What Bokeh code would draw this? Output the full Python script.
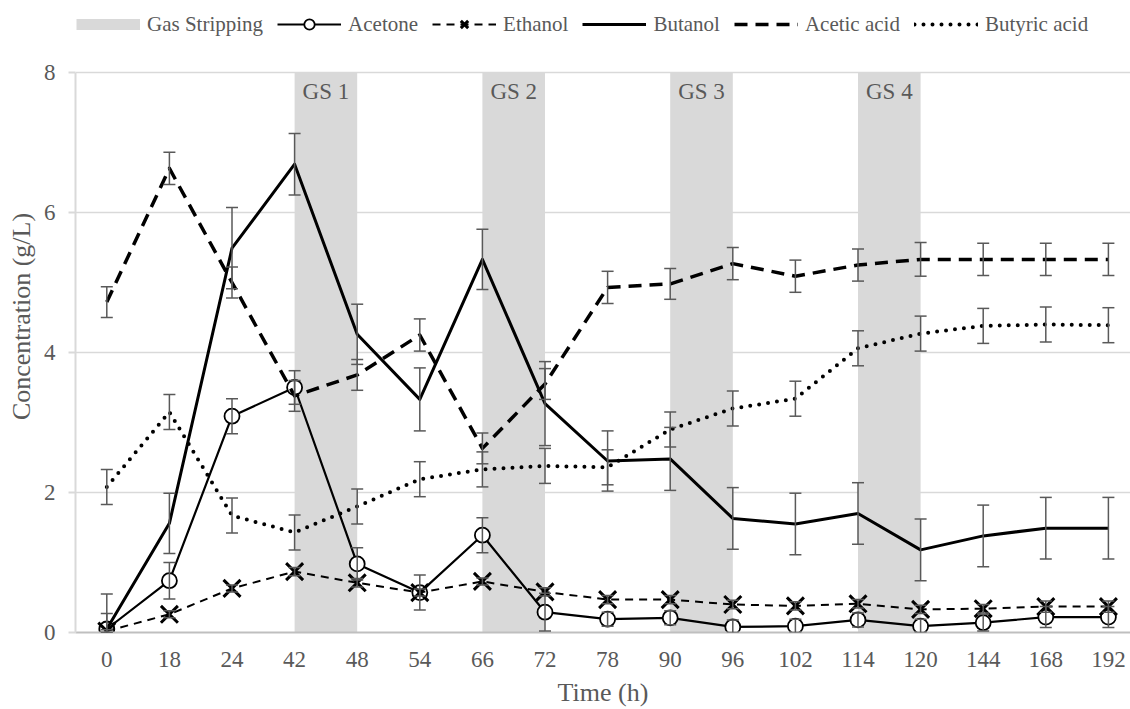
from bokeh.plotting import figure
from bokeh.models import (Range1d, FixedTicker, Whisker, TeeHead, ColumnDataSource,
                          Legend, LegendItem, Label)
from bokeh.embed import file_html
from bokeh.resources import INLINE

# ---------------- data ----------------
times = ["0", "18", "24", "42", "48", "54", "66", "72", "78", "90", "96",
         "102", "114", "120", "144", "168", "192"]

acetone = [0.05, 0.74, 3.09, 3.50, 0.98, 0.57, 1.39, 0.29, 0.19, 0.21, 0.08,
           0.09, 0.18, 0.09, 0.14, 0.22, 0.22]
acetone_err = [0.22, 0.26, 0.25, 0.24, 0.23, 0.25, 0.25, 0.27, 0.10, 0.10, 0.10,
               0.10, 0.10, 0.10, 0.12, 0.15, 0.15]

ethanol = [0.02, 0.26, 0.63, 0.87, 0.71, 0.57, 0.73, 0.58, 0.47, 0.47, 0.40,
           0.38, 0.41, 0.33, 0.34, 0.37, 0.37]
ethanol_err = [0.02, 0.05, 0.05, 0.06, 0.06, 0.05, 0.05, 0.06, 0.06, 0.06, 0.06,
               0.06, 0.06, 0.06, 0.06, 0.08, 0.08]

butanol = [0.05, 1.56, 5.49, 6.69, 4.26, 3.33, 5.33, 3.27, 2.45, 2.48, 1.63,
           1.55, 1.70, 1.18, 1.38, 1.49, 1.49]
butanol_err = [0.50, 0.43, 0.58, 0.44, 0.43, 0.45, 0.43, 0.60, 0.43, 0.45, 0.44,
               0.44, 0.44, 0.44, 0.44, 0.44, 0.44]

acetic = [4.72, 6.63, 5.00, 3.38, 3.68, 4.25, 2.63, 3.55, 4.93, 4.98, 5.27,
          5.09, 5.25, 5.33, 5.33, 5.33, 5.33]
acetic_err = [0.22, 0.23, 0.22, 0.22, 0.22, 0.23, 0.22, 0.22, 0.23, 0.22, 0.23,
              0.23, 0.23, 0.24, 0.23, 0.23, 0.23]

butyric = [2.08, 3.15, 1.67, 1.43, 1.80, 2.19, 2.33, 2.38, 2.36, 2.90, 3.20,
           3.34, 4.06, 4.27, 4.38, 4.40, 4.39]
butyric_err = [0.25] * 17

gs_starts = ["42", "66", "90", "114"]
gs_ends = ["48", "72", "96", "120"]
gs_labels = ["GS 1", "GS 2", "GS 3", "GS 4"]

y_ticks = [0, 2, 4, 6, 8]

# ---------------- figure ----------------
xs = list(range(len(times)))
idx = {t: i for i, t in enumerate(times)}

GREY_TXT = "#595959"
BAND = "#d9d9d9"
FONT = "Liberation Serif"

# frame spans the full top so the legend (drawn inside it) is not clipped;
# the visible axis/grid stop at the top tick.
p = figure(width=1130, height=709, output_backend="svg", toolbar_location=None,
           x_range=Range1d(-0.5, 16.353), y_range=Range1d(0, 9.0286),
           min_border_left=75, min_border_right=0, min_border_top=0,
           min_border_bottom=77)
p.outline_line_color = None
p.background_fill_color = "white"
p.border_fill_color = "white"

p.xgrid.grid_line_color = None
p.ygrid.grid_line_color = "#d9d9d9"
p.ygrid.grid_line_width = 1.5
p.ygrid.ticker = FixedTicker(ticks=y_ticks)
p.ygrid.bounds = (y_ticks[0], y_ticks[-1])

# gas stripping bands
band_left = [idx[s] for s in gs_starts]
band_right = [idx[e] for e in gs_ends]
p.quad(left=band_left, right=band_right, bottom=y_ticks[0], top=y_ticks[-1],
       fill_color=BAND, line_color=None)
# legend swatch only (a single undefined point draws nothing on the plot)
gs_legend = p.line([xs[0]], [float("nan")], line_color=BAND, line_width=11,
                   line_cap="butt")

for l, r, txt in zip(band_left, band_right, gs_labels):
    p.add_layout(Label(x=(l + r) / 2, y=541, y_units="screen", text=txt,
                       text_align="center", text_baseline="middle",
                       text_font=FONT, text_font_size="23px", text_color=GREY_TXT))

# series
r_ac_l = p.line(xs, acetone, line_color="black", line_width=2.2, line_join="round")
r_ac_m = p.scatter(xs, acetone, marker="circle", size=15, fill_color="white",
                   line_color="black", line_width=1.8)

r_et_l = p.line(xs, ethanol, line_color="black", line_width=2, line_dash="8 6")
r_et_m = p.scatter(xs, ethanol, marker="x", size=24, line_color="black", line_width=3)

r_bu = p.line(xs, butanol, line_color="black", line_width=3, line_join="round")

r_aa = p.line(xs, acetic, line_color="black", line_width=3.5, line_dash="13 8",
              line_join="round")

r_ba = p.line(xs, butyric, line_color="black", line_width=4, line_dash="0 9",
              line_cap="round", line_join="round")

# error bars
for vals, errs in [(acetone, acetone_err), (ethanol, ethanol_err),
                   (butanol, butanol_err), (acetic, acetic_err),
                   (butyric, butyric_err)]:
    src = ColumnDataSource(dict(base=xs,
                                upper=[v + e for v, e in zip(vals, errs)],
                                lower=[max(v - e, 0) for v, e in zip(vals, errs)]))
    w = Whisker(source=src, base="base", upper="upper", lower="lower",
                dimension="height", line_color=GREY_TXT, line_width=1.5,
                level="annotation",
                upper_head=TeeHead(size=12, line_color=GREY_TXT, line_width=1.5),
                lower_head=TeeHead(size=12, line_color=GREY_TXT, line_width=1.5))
    p.add_layout(w)

# axes
xa = p.xaxis[0]
xa.ticker = FixedTicker(ticks=xs)
xa.major_label_overrides = {i: t for i, t in enumerate(times)}
xa.axis_label = "Time (h)"
xa.axis_line_color = "#bfbfbf"
xa.axis_line_width = 2
xa.major_tick_line_color = None
xa.minor_tick_line_color = None
xa.major_label_standoff = 13
xa.axis_label_standoff = 8

ya = p.yaxis[0]
ya.ticker = FixedTicker(ticks=y_ticks)
ya.bounds = (y_ticks[0], y_ticks[-1])
ya.axis_label = "Concentration (g/L)"
ya.axis_line_color = "#d9d9d9"
ya.axis_line_width = 2
ya.major_tick_line_color = "#d9d9d9"
ya.major_tick_line_width = 2
ya.major_tick_out = 7
ya.major_tick_in = 0
ya.minor_tick_line_color = None
ya.major_label_standoff = 13
ya.axis_label_standoff = 5

for ax in (xa, ya):
    ax.major_label_text_font = FONT
    ax.major_label_text_font_size = "23px"
    ax.major_label_text_color = GREY_TXT
    ax.axis_label_text_font = FONT
    ax.axis_label_text_font_size = "26px"
    ax.axis_label_text_font_style = "normal"
    ax.axis_label_text_color = GREY_TXT

# legend (inside the frame, in the band above the top tick)
legend = Legend(items=[
    LegendItem(label="Gas Stripping", renderers=[gs_legend]),
    LegendItem(label="Acetone", renderers=[r_ac_l, r_ac_m]),
    LegendItem(label="Ethanol", renderers=[r_et_l, r_et_m]),
    LegendItem(label="Butanol", renderers=[r_bu]),
    LegendItem(label="Acetic acid", renderers=[r_aa]),
    LegendItem(label="Butyric acid", renderers=[r_ba]),
], orientation="horizontal", location=(1, 595), glyph_width=64, glyph_height=26,
    label_standoff=7, spacing=14, padding=0, margin=0, border_line_color=None,
    background_fill_alpha=0, label_text_font=FONT, label_text_font_size="21px",
    label_text_color=GREY_TXT, label_height=22)
p.add_layout(legend)

open("out.html", "w").write(file_html(p, INLINE))
